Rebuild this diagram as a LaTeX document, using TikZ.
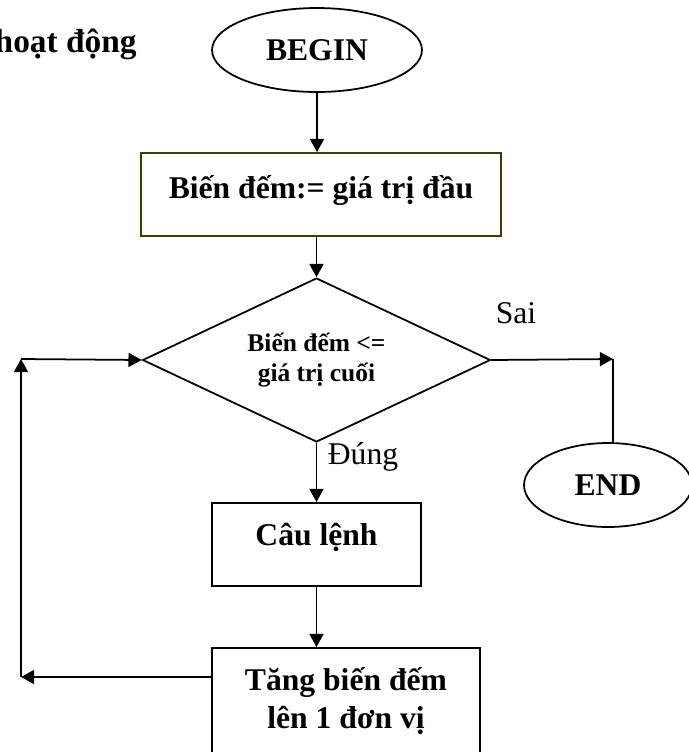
\documentclass[tikz,border=0pt]{standalone}
\usepackage{fontspec}
\setmainfont{Liberation Serif}
\usetikzlibrary{shapes.geometric, arrows.meta}
\definecolor{boxline}{RGB}{64,60,0}
\tikzstyle{terminal} = [ellipse, draw=black, line width=1pt, inner sep=0pt, font=\fontsize{18}{22}\selectfont\bfseries]
\tikzstyle{process} = [rectangle, draw=black, line width=1.1pt, inner sep=0pt, align=center, font=\fontsize{18}{22}\selectfont\bfseries]
\tikzstyle{decision} = [diamond, aspect=2.1, draw=black, line width=1pt, inner sep=0pt, align=center, font=\fontsize{14.5}{17}\selectfont\bfseries]
\tikzstyle{answer} = [inner sep=0pt, font=\fontsize{18}{22}\selectfont]
\tikzstyle{flow} = [line width=1pt]

\begin{document}
\begin{tikzpicture}[x=0.02cm, y=-0.02cm, >={Triangle[length=7.5pt,width=8pt]}]
    \useasboundingbox (0,0) rectangle (689,752);
    \clip (0,0) rectangle (689,752);
    \node at (137,52) [anchor=base east, inner sep=0pt, font=\fontsize{19}{22}\selectfont\bfseries] (title) {hoạt động};
    \node at (317,50) [terminal, minimum width=4.2cm, minimum height=1.68cm] (begin) {BEGIN};
    \node at (321,194.5) [process, draw=boxline, minimum width=7.2cm, minimum height=1.66cm, text height=12pt, text depth=7.4pt] (init) {Biến đếm:= giá trị đầu};
    \node at (316.5,360) [decision, minimum width=6.96cm, minimum height=3.28cm] (cond) {Biến đếm <=\\giá trị cuối};
    \node at (316.5,544.5) [process, minimum width=4.18cm, minimum height=1.66cm, text height=12pt, text depth=11.4pt] (body) {Câu lệnh};
    \node at (346,647) [process, anchor=north, minimum width=5.36cm, inner ysep=11pt, text depth=80pt] (incr) {Tăng biến đếm\\lên 1 đơn vị};
    \node at (608,485) [terminal, minimum width=3.36cm, minimum height=1.68cm] (stop) {END};
    \node at (516,313) [answer] (no) {Sai};
    \node at (363,457) [answer] (yes) {Đúng};
    \coordinate (turn) at (613,359);
    \coordinate (back1) at (21,677);
    \coordinate (back2) at (21,359);

    \draw[->, flow] (begin) -- (begin |- init.north);
    \draw[->, flow] (init.south -| cond) -- (cond);
    \draw[->, flow] (cond) -- (body);
    \draw[->, flow] (body) -- (body |- incr.north);
    \draw[->, flow] (incr.west |- back1) -- (back1);
    \draw[->, flow] (back1) -- (back2);
    \draw[->, flow] (back2) -- (cond.west);
    \draw[->, flow] (cond.east) -- (turn);
    \draw[-, flow] (turn) -- (turn |- stop.north);
\end{tikzpicture}
\end{document}
